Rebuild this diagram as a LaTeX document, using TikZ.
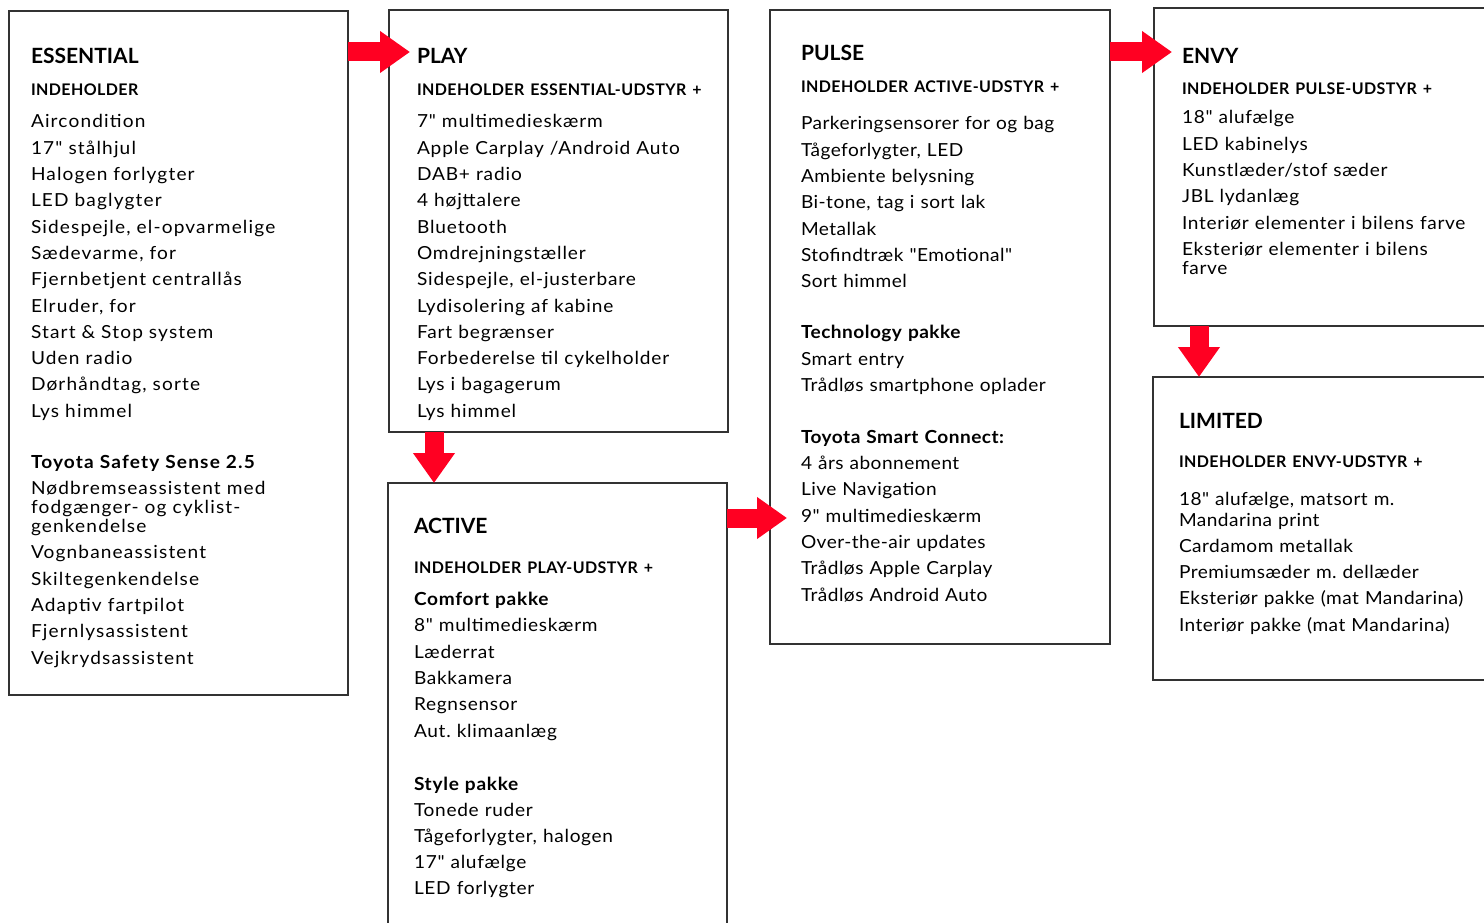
\documentclass[tikz,border=0pt]{standalone}
\usepackage{fontspec}
\setmainfont{Lato}
\newfontfamily\essfont[LetterSpace=6.4,FakeStretch=1.06]{Lato}
\newfontfamily\playfont[LetterSpace=4.8,FakeStretch=1.06]{Lato}
\newfontfamily\midfont[LetterSpace=3.9,FakeStretch=1.06]{Lato}
\newfontfamily\tightfont[LetterSpace=2.6,FakeStretch=1.06]{Lato}
\newfontfamily\subfont[LetterSpace=2.5]{Lato}
\usetikzlibrary{positioning,calc,arrows.meta}
\definecolor{toyred}{RGB}{255,0,34}
\definecolor{boxline}{RGB}{50,50,50}
\newcommand{\boxtitle}{\normalfont\fontsize{21}{26.3}\selectfont\bfseries}
\newcommand{\boxsub}{\subfont\fontsize{16}{26.3}\selectfont\bfseries}
\frenchspacing
\tikzset{
  box/.style={draw=boxline, line width=1.4pt, rectangle, inner sep=0pt, outer sep=0pt},
  txt/.style={inner sep=0pt, outer sep=0pt, text width=340pt, align=left, font=#1\fontsize{18}{26.3}\selectfont},
  bigarrow/.style={draw=toyred, line width=19pt, -{Triangle[length=30pt,width=40pt]}}
}

\begin{document}
\begin{tikzpicture}[x=1pt, y=1pt]
        \useasboundingbox (0,0) rectangle (1484,-923);
        \clip (0,0) rectangle (1484,-923);

        \node [box, minimum width=339pt, minimum height=684pt, anchor=north west] (essential) at (9,-11) {};
        \node [box, minimum width=339pt, minimum height=422pt, right=41pt of essential.north east, anchor=north west, yshift=1pt] (play) {};
        \node [box, minimum width=339pt, minimum height=480pt, below=51pt of play.south west, anchor=north west, xshift=-1pt] (active) {};
        \node [box, minimum width=340pt, minimum height=634pt, right=42pt of play.north east, anchor=north west] (pulse) {};
        \node [box, minimum width=360pt, minimum height=318pt, right=44pt of pulse.north east, anchor=north west, yshift=2pt] (envy) {};
        \node [box, minimum width=360pt, minimum height=303pt, below=51pt of envy.south west, anchor=north west, xshift=-1pt] (limited) {};

        \node [txt=\essfont, below right=53pt and 22pt of essential.north west, anchor=base west] (essentialtxt) {%
          {\boxtitle ESSENTIAL}\\[5.7pt]
          {\boxsub INDEHOLDER}\\[5.7pt]
          Aircondition\\
          17" stålhjul\\
          Halogen forlygter\\
          LED baglygter\\
          Sidespejle, el-opvarmelige\\
          Sædevarme, for\\
          Fjernbetjent centrallås\\
          Elruder, for\\
          Start \& Stop system\\
          Uden radio\\
          Dørhåndtag, sorte\\
          Lys himmel\\[24.7pt]
          {\bfseries Toyota Safety Sense 2.5}\\
          Nødbremseassistent med\\[-7.3pt]
          fodgænger- og cyklist-\\[-7.3pt]
          genkendelse\\
          Vognbaneassistent\\
          Skiltegenkendelse\\
          Adaptiv fartpilot\\
          Fjernlysassistent\\
          Vejkrydsassistent};

        \node [txt=\playfont, below right=54pt and 28pt of play.north west, anchor=base west] (playtxt) {%
          {\boxtitle PLAY}\\[5.7pt]
          {\boxsub INDEHOLDER ESSENTIAL-UDSTYR +}\\[5.7pt]
          7" multimedieskærm\\
          Apple Carplay /Android Auto\\
          DAB+ radio\\
          4 højttalere\\
          Bluetooth\\
          Omdrejningstæller\\
          Sidespejle, el-justerbare\\
          Lydisolering af kabine\\
          Fart begrænser\\
          Forbederelse til cykelholder\\
          Lys i bagagerum\\
          Lys himmel};

        \node [txt=\midfont, below right=50pt and 26pt of active.north west, anchor=base west] (activetxt) {%
          {\boxtitle ACTIVE}\\[13.7pt]
          {\boxsub INDEHOLDER PLAY-UDSTYR +}\\[6.2pt]
          {\bfseries Comfort pakke}\\
          8" multimedieskærm\\
          Læderrat\\
          Bakkamera\\
          Regnsensor\\
          Aut. klimaanlæg\\[27.2pt]
          {\bfseries Style pakke}\\[-0.3pt]
          Tonede ruder\\[-0.3pt]
          Tågeforlygter, halogen\\[-0.3pt]
          17" alufælge\\[-0.3pt]
          LED forlygter};

        \node [txt=\tightfont, below right=51pt and 31pt of pulse.north west, anchor=base west] (pulsetxt) {%
          {\boxtitle PULSE}\\[5.7pt]
          {\boxsub INDEHOLDER ACTIVE-UDSTYR +}\\[10.7pt]
          Parkeringsensorer for og bag\\
          Tågeforlygter, LED\\
          Ambiente belysning\\
          Bi-tone, tag i sort lak\\
          Metallak\\
          Stofindtræk "Emotional"\\
          Sort himmel\\[24.7pt]
          {\bfseries Technology pakke}\\
          Smart entry\\
          Trådløs smartphone oplader\\[25.7pt]
          {\bfseries Toyota Smart Connect:}\\
          4 års abonnement\\
          Live Navigation\\
          9" multimedieskærm\\
          Over-the-air updates\\
          Trådløs Apple Carplay\\
          Trådløs Android Auto};

        \node [txt=\midfont, below right=56pt and 28pt of envy.north west, anchor=base west] (envytxt) {%
          {\boxtitle ENVY}\\[4.7pt]
          {\boxsub INDEHOLDER PULSE-UDSTYR +}\\[2.7pt]
          18" alufælge\\
          LED kabinelys\\
          Kunstlæder/stof sæder\\
          JBL lydanlæg\\
          Interiør elementer i bilens farve\\
          Eksteriør elementer i bilens\\[-7.3pt]
          farve};

        \node [txt=\tightfont, below right=51pt and 26pt of limited.north west, anchor=base west] (limitedtxt) {%
          {\boxtitle LIMITED}\\[12.7pt]
          {\boxsub INDEHOLDER ENVY-UDSTYR +}\\[11.7pt]
          18" alufælge, matsort m.\\[-5.3pt]
          Mandarina print\\
          Cardamom metallak\\
          Premiumsæder m. dellæder\\
          Eksteriør pakke (mat Mandarina)\\
          Interiør pakke (mat Mandarina)};

        \draw [bigarrow] ($(essential.north east)+(0,-41)$) -- ($(play.north west)+(21,-42)$);
        \draw [bigarrow] ($(play.south west)+(45,0)$) -- ($(active.north west)+(46,0)$);
        \draw [bigarrow] ($(active.north east)+(0,-35)$) -- ($(pulse.north west)+(17,-508)$);
        \draw [bigarrow] ($(pulse.north east)+(0,-42)$) -- ($(envy.north west)+(18,-44)$);
        \draw [bigarrow] ($(envy.south west)+(45,0)$) -- ($(limited.north west)+(46,0)$);
      \end{tikzpicture}
\end{document}
